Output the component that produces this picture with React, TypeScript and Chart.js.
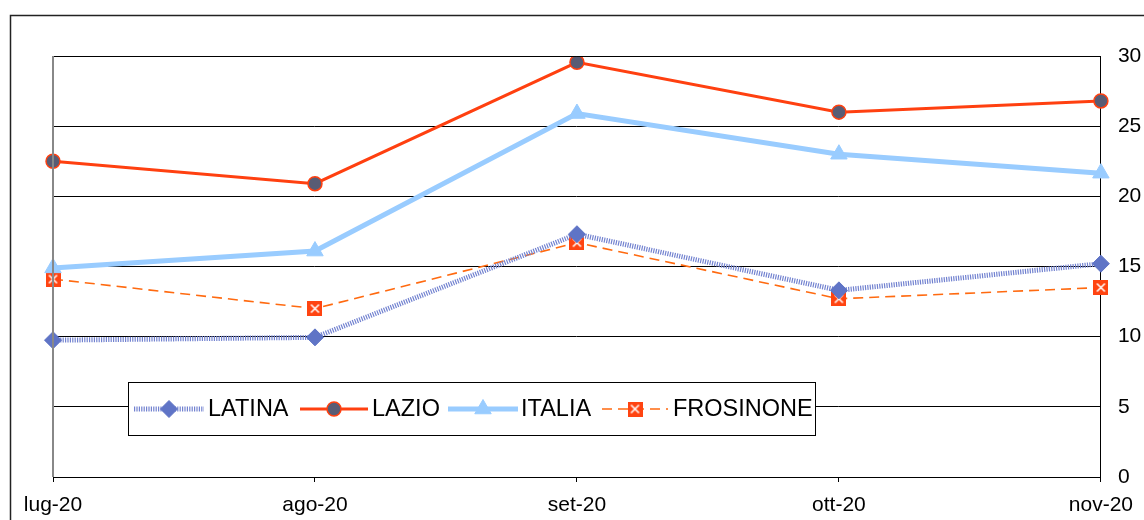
import React, { useEffect, useRef } from "react";
import { Chart, registerables } from "chart.js";

Chart.register(...registerables);

const categories = ["lug-20", "ago-20", "set-20", "ott-20", "nov-20"];
const latina = [9.75, 9.95, 17.3, 13.3, 15.2];
const lazio = [22.5, 20.9, 29.55, 26.0, 26.8];
const italia = [14.9, 16.1, 25.9, 23.0, 21.65];
const frosinone = [14.1, 12.0, 16.7, 12.7, 13.5];
const yTicks = [0, 5, 10, 15, 20, 25, 30];

function makeCrossSquare(size: number): HTMLCanvasElement {
  const c = document.createElement("canvas");
  c.width = size;
  c.height = size;
  const ctx = c.getContext("2d")!;
  ctx.fillStyle = "#FF4411";
  ctx.fillRect(0, 0, size, size);
  ctx.strokeStyle = "#ffffff";
  ctx.lineWidth = 1.6;
  const m = 3.5;
  ctx.beginPath();
  ctx.moveTo(m, m);
  ctx.lineTo(size - m, size - m);
  ctx.moveTo(size - m, m);
  ctx.lineTo(m, size - m);
  ctx.stroke();
  return c;
}

function drawMarker(ctx: CanvasRenderingContext2D, style: string, r: number, x: number, y: number) {
  ctx.beginPath();
  if (style === "circle") {
    ctx.arc(x, y, r, 0, Math.PI * 2);
  } else if (style === "rectRot") {
    ctx.moveTo(x, y - r);
    ctx.lineTo(x + r, y);
    ctx.lineTo(x, y + r);
    ctx.lineTo(x - r, y);
  } else if (style === "triangle") {
    ctx.moveTo(x, y - r);
    ctx.lineTo(x + r * 0.866, y + r * 0.5);
    ctx.lineTo(x - r * 0.866, y + r * 0.5);
  }
  ctx.closePath();
  ctx.fill();
  ctx.stroke();
}

export default function App() {
  const ref = useRef<HTMLCanvasElement>(null);
  useEffect(() => {
    const canvas = ref.current!;
    const crossSq = makeCrossSquare(15);
    const FONT = "'Liberation Sans', Arial, sans-serif";

    const framePlugin = {
      id: "frame",
      beforeDraw(chart: any) {
        const ctx = chart.ctx;
        ctx.save();
        ctx.fillStyle = "#fff";
        ctx.fillRect(0, 0, chart.width, chart.height);
        ctx.strokeStyle = "#222";
        ctx.lineWidth = 1.5;
        ctx.beginPath();
        ctx.moveTo(10.5, 530);
        ctx.lineTo(10.5, 15.5);
        ctx.lineTo(1150, 15.5);
        ctx.stroke();
        ctx.restore();
      },
      afterDatasetsDraw(chart: any) {
        const { ctx, chartArea: a } = chart;
        ctx.save();
        ctx.strokeStyle = "#000";
        ctx.lineWidth = 1;
        ctx.beginPath();
        ctx.moveTo(a.left, a.top + 0.5);
        ctx.lineTo(a.right, a.top + 0.5);
        ctx.stroke();
        ctx.strokeStyle = "#888";
        ctx.lineWidth = 2;
        ctx.beginPath();
        ctx.moveTo(a.left, a.top);
        ctx.lineTo(a.left, a.bottom);
        ctx.stroke();

        // legend
        const bx = 128.5, by = 382.5, bw = 687, bh = 53;
        ctx.fillStyle = "#fff";
        ctx.fillRect(bx, by, bw, bh);
        ctx.strokeStyle = "#000";
        ctx.lineWidth = 1;
        ctx.strokeRect(bx, by, bw, bh);
        const cy = by + bh / 2;
        ctx.font = `23.5px ${FONT}`;
        ctx.textBaseline = "middle";
        ctx.textAlign = "left";
        const items = [
          { x1: 134, x2: 204, tx: 208 },
          { x1: 300, x2: 368, tx: 372 },
          { x1: 448, x2: 518, tx: 521 },
          { x1: 602, x2: 668, tx: 673 },
        ];
        chart.data.datasets.forEach((ds: any, i: number) => {
          const it = items[i];
          ctx.save();
          ctx.strokeStyle = ds.borderColor;
          ctx.lineWidth = ds.borderWidth;
          ctx.setLineDash(ds.borderDash || []);
          ctx.beginPath();
          ctx.moveTo(it.x1, cy);
          ctx.lineTo(it.x2, cy);
          ctx.stroke();
          ctx.restore();
          const mx = (it.x1 + it.x2) / 2;
          const style = ds.pointStyle;
          ctx.save();
          ctx.fillStyle = ds.pointBackgroundColor;
          ctx.strokeStyle = ds.pointBorderColor;
          ctx.lineWidth = ds.pointBorderWidth;
          ctx.setLineDash([]);
          if (style instanceof HTMLCanvasElement) {
            ctx.drawImage(style, mx - style.width / 2, cy - style.height / 2);
          } else {
            drawMarker(ctx, style, ds.pointRadius, mx, cy);
          }
          ctx.restore();
          ctx.fillStyle = "#000";
          ctx.fillText(ds.label, it.tx, cy + 1);
        });
        ctx.restore();
      },
    };

    const chart = new Chart(canvas, {
      type: "line",
      data: {
        labels: categories,
        datasets: [
          {
            label: "LATINA",
            data: latina,
            borderColor: "#7282D0",
            borderWidth: 5,
            borderDash: [1.2, 1.2],
            pointStyle: "rectRot",
            pointRadius: 8.5,
            pointBackgroundColor: "#5F74C6",
            pointBorderColor: "#5F74C6",
            pointBorderWidth: 1,
            tension: 0,
          },
          {
            label: "LAZIO",
            data: lazio,
            borderColor: "#FF4010",
            borderWidth: 3,
            pointStyle: "circle",
            pointRadius: 7,
            pointBackgroundColor: "#595C74",
            pointBorderColor: "#FF4010",
            pointBorderWidth: 1.5,
            tension: 0,
          },
          {
            label: "ITALIA",
            data: italia,
            borderColor: "#99CCFF",
            borderWidth: 5,
            pointStyle: "triangle",
            pointRadius: 9.5,
            pointBackgroundColor: "#99CCFF",
            pointBorderColor: "#99CCFF",
            pointBorderWidth: 1,
            tension: 0,
          },
          {
            label: "FROSINONE",
            data: frosinone,
            borderColor: "#FF6A10",
            borderWidth: 1.6,
            borderDash: [10, 6],
            pointStyle: crossSq as any,
            pointRadius: 7.5,
            pointBackgroundColor: "#FF4411",
            pointBorderColor: "#FF4411",
            pointBorderWidth: 1,
            tension: 0,
          },
        ],
      },
      options: {
        responsive: false,
        animation: false,
        layout: { padding: { left: 53, top: 56, right: 0, bottom: 0 } },
        plugins: { legend: { display: false }, tooltip: { enabled: false } },
        scales: {
          x: {
            offset: false,
            grid: { drawOnChartArea: false, drawTicks: true, tickLength: 5, color: "#000" },
            border: { color: "#000", width: 1 },
            ticks: { color: "#000", font: { size: 21, family: FONT }, padding: 11, maxRotation: 0, autoSkip: false },
            afterFit: (s: any) => { s.height = 43; },
          },
          y: {
            position: "right",
            min: 0,
            max: 30,
            afterBuildTicks: (s: any) => { s.ticks = yTicks.map((v) => ({ value: v })); },
            grid: { color: "#000", drawTicks: false, lineWidth: 1 },
            border: { color: "#000", width: 1 },
            ticks: { color: "#000", font: { size: 21, family: FONT }, padding: 17 },
            afterFit: (s: any) => { s.width = 41; },
          },
        },
      },
      plugins: [framePlugin],
    });
    return () => chart.destroy();
  }, []);

  return (
    <div style={{ position: "fixed", left: 0, top: 0, width: 1144, height: 520, background: "#fff" }}>
      <canvas ref={ref} width={1144} height={520} style={{ display: "block" }} />
    </div>
  );
}
